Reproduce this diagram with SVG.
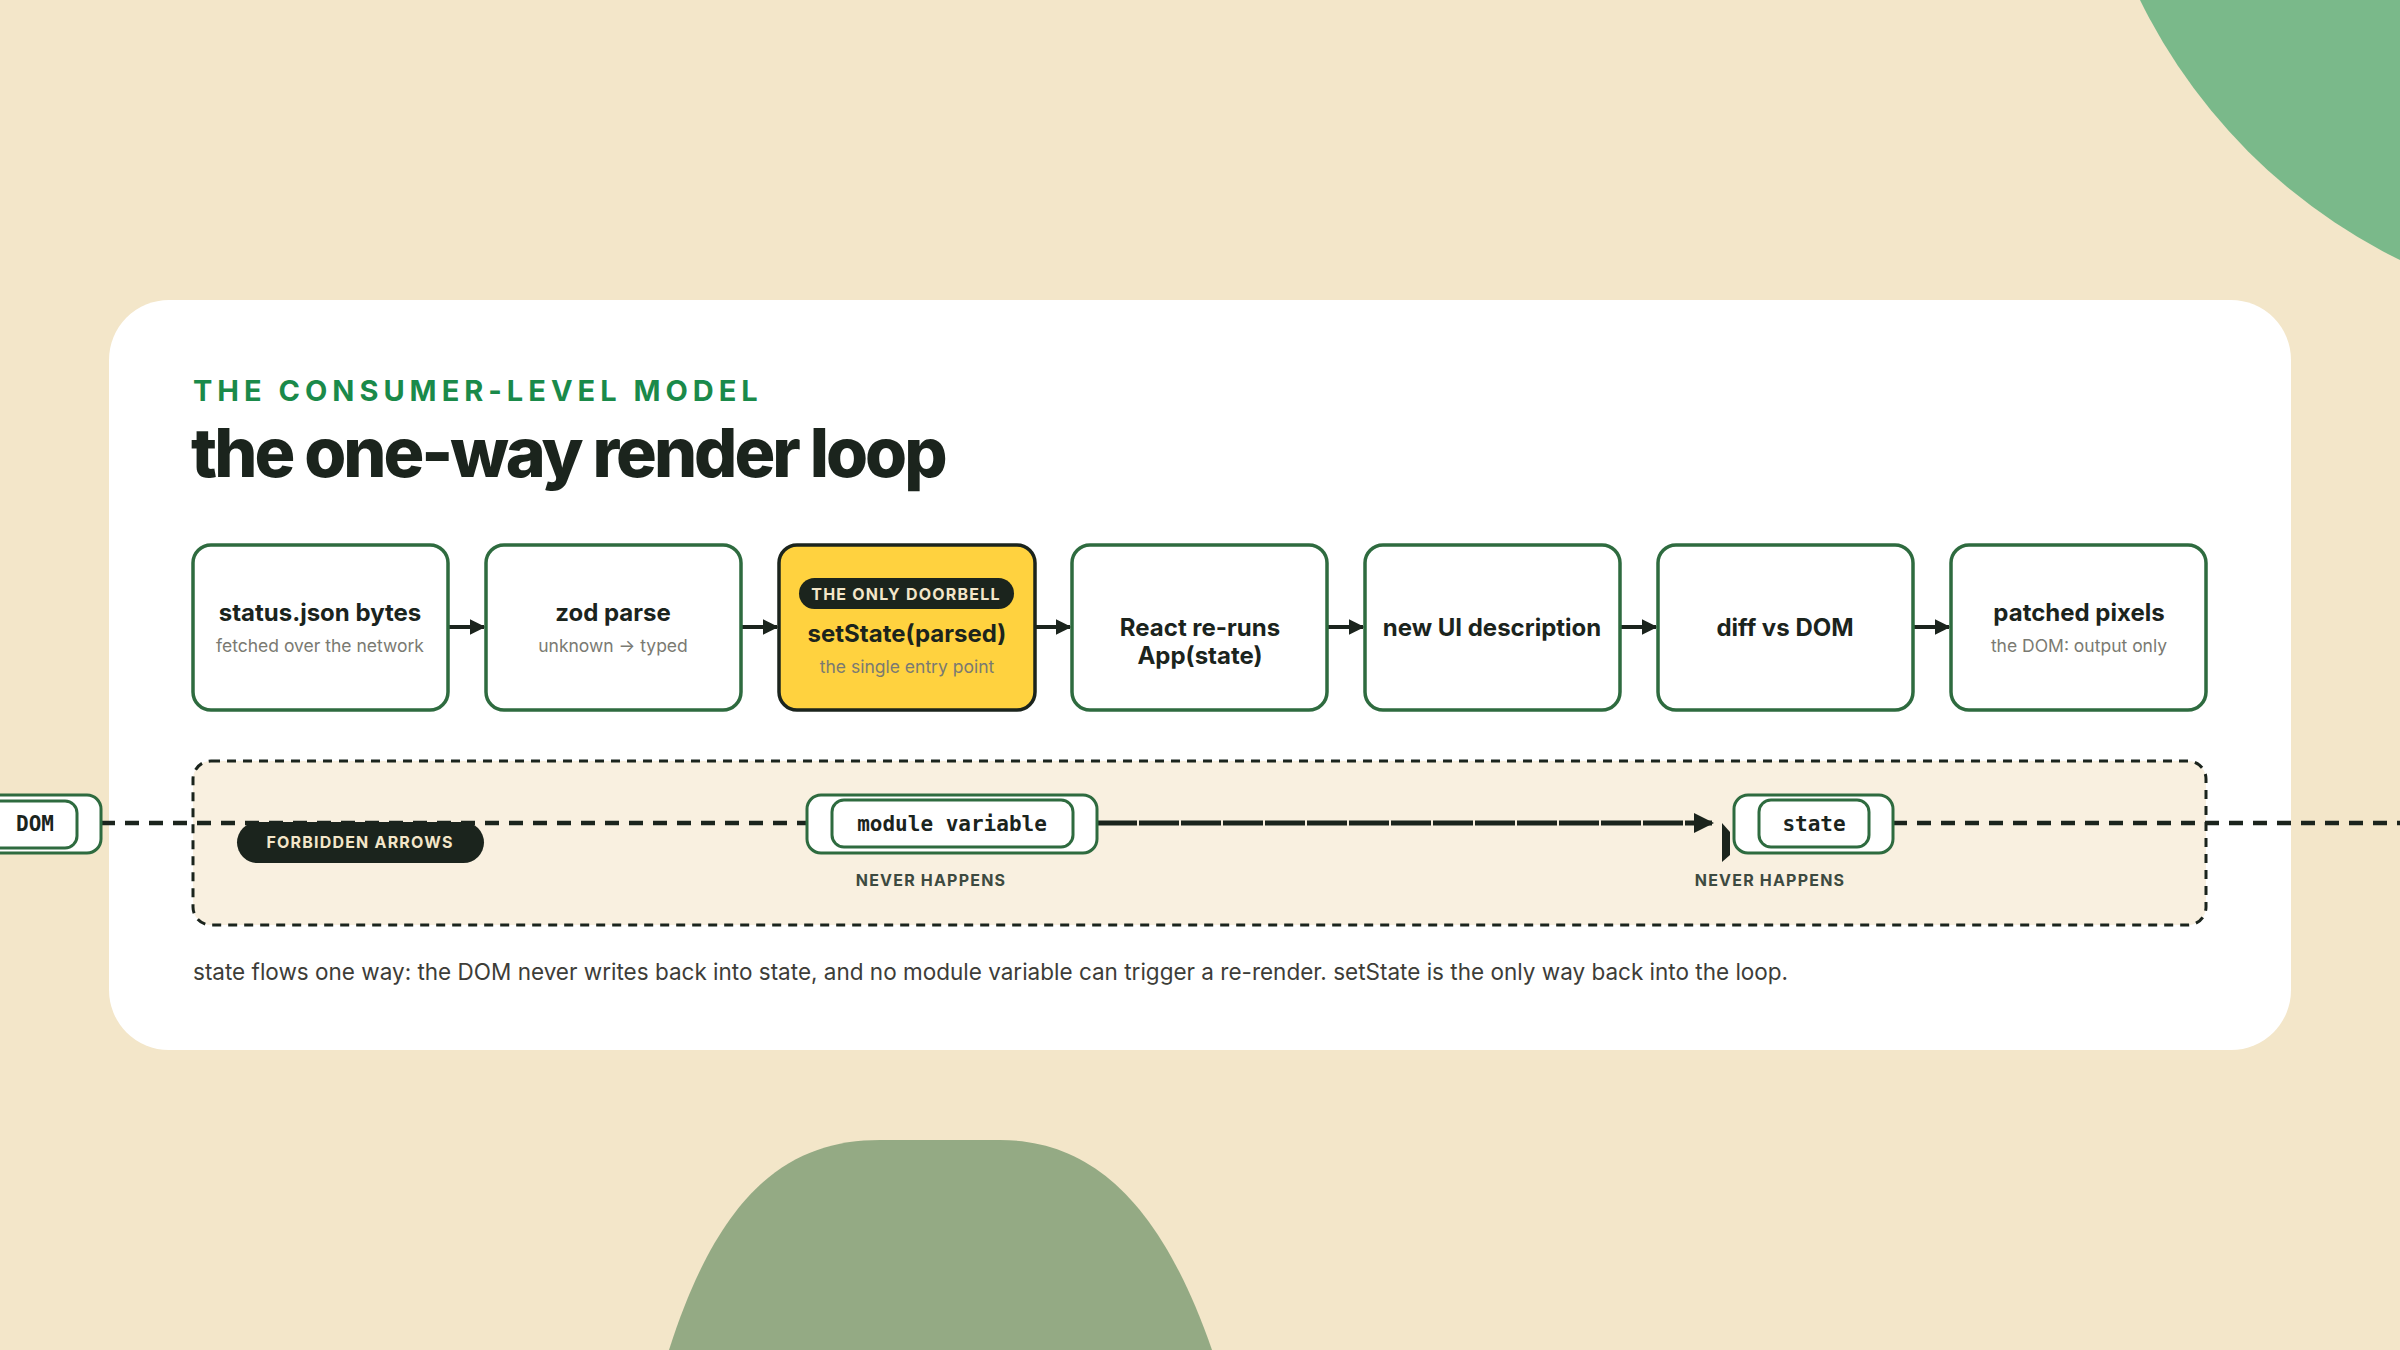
<svg xmlns="http://www.w3.org/2000/svg" width="2400" height="1350" viewBox="0 0 2400 1350">
<defs>
<style>
.node rect.b{fill:#fff;stroke:#2e6b3f;stroke-width:3.5}
.t{font-family:Inter,"Liberation Sans",sans-serif;font-weight:700;font-size:24px;fill:#1b241d;text-anchor:middle}
.s{font-family:Inter,"Liberation Sans",sans-serif;font-size:17.5px;fill:#7a7a72;text-anchor:middle}
.mono{font-family:"DejaVu Sans Mono","Liberation Mono",monospace;font-size:21px;fill:#1b241d;text-anchor:middle;font-weight:700}
.cap{font-family:Inter,"Liberation Sans",sans-serif;font-weight:700;font-size:16px;letter-spacing:1.2px;text-anchor:middle}
.ar{stroke:#1b241d;stroke-width:4;fill:none;marker-end:url(#ah)}
.notch{fill:#1b241d}
</style>
<marker id="ah" viewBox="0 0 10 10" refX="9" refY="5" markerWidth="4" markerHeight="4" orient="auto" markerUnits="strokeWidth"><path d="M0,0L10,5L0,10Z" fill="#1b241d"/></marker>
</defs>
<rect width="2400" height="1350" fill="#f3e6c9"/>
<circle cx="2650" cy="-250" r="568" fill="#7ab98a"/>
<path d="M669,1350 C720,1190 790,1140 880,1140 L1000,1140 C1090,1140 1160,1200 1212,1350 Z" fill="#94aa84"/>
<rect x="109" y="300" width="2182" height="750" rx="60" fill="#fff"/>
<text x="193" y="401" font-family="Inter,'Liberation Sans',sans-serif" font-weight="700" font-size="29" letter-spacing="5" fill="#1a8a4a">THE CONSUMER-LEVEL MODEL</text>
<text x="191" y="477" font-family="Inter,'Liberation Sans',sans-serif" font-weight="800" font-size="68" letter-spacing="-3" fill="#1b241d">the one-way render loop</text>

<rect x="193" y="761" width="2013" height="164" rx="18" fill="#f9f0e0" stroke="#1b241d" stroke-width="3" stroke-dasharray="9 7"/>

<g id="connectors">
<line class="ar" x1="448" y1="627" x2="484" y2="627"/>
<line class="ar" x1="741" y1="627" x2="777" y2="627"/>
<line class="ar" x1="1035" y1="627" x2="1070" y2="627"/>
<line class="ar" x1="1327" y1="627" x2="1363" y2="627"/>
<line class="ar" x1="1620" y1="627" x2="1656" y2="627"/>
<line class="ar" x1="1913" y1="627" x2="1949" y2="627"/>
<line x1="101" y1="823" x2="807" y2="823" stroke="#1b241d" stroke-width="4.5" stroke-dasharray="14 10"/>
<line x1="1097" y1="823" x2="1712" y2="823" stroke="#1b241d" stroke-width="5" stroke-dasharray="40 2" marker-end="url(#ah)"/>
<line x1="1893" y1="823" x2="2400" y2="823" stroke="#1b241d" stroke-width="4.5" stroke-dasharray="14 10"/>
<path class="notch" d="M486,627 L496,637 L496,662 L486,668Z"/>
<path class="notch" d="M779,627 L789,637 L789,662 L779,668Z"/>
<path class="notch" d="M1072,627 L1082,637 L1082,662 L1072,668Z"/>
<path class="notch" d="M1365,627 L1375,637 L1375,662 L1365,668Z"/>
<path class="notch" d="M1658,627 L1668,637 L1668,662 L1658,668Z"/>
<path class="notch" d="M1951,627 L1961,637 L1961,662 L1951,668Z"/>
<path class="notch" d="M1722,823 L1730,832 L1730,855 L1722,862Z"/>
</g>

<g id="n1" class="node"><rect class="b" x="193" y="545" width="255" height="165" rx="18"/>
<text class="t" x="320" y="621">status.json bytes</text><text class="s" x="320" y="652">fetched over the network</text></g>
<g id="n2" class="node"><rect class="b" x="486" y="545" width="255" height="165" rx="18"/>
<text class="t" x="613" y="621">zod parse</text><text class="s" x="613" y="652">unknown → typed</text></g>
<g id="n3" class="node"><rect x="779" y="545" width="256" height="165" rx="18" fill="#ffd23f" stroke="#1b241d" stroke-width="3.5"/>
<rect x="799" y="578" width="215" height="31" rx="15.5" fill="#1b241d"/>
<text class="cap" x="906" y="600" font-size="15" fill="#f3e6c9">THE ONLY DOORBELL</text>
<text class="t" x="907" y="642">setState(parsed)</text><text class="s" x="907" y="673" fill="#1b241d">the single entry point</text></g>
<g id="n4" class="node"><rect class="b" x="1072" y="545" width="255" height="165" rx="18"/>
<text class="t" x="1200" y="636">React re-runs</text><text class="t" x="1200" y="664">App(state)</text></g>
<g id="n5" class="node"><rect class="b" x="1365" y="545" width="255" height="165" rx="18"/>
<text class="t" x="1492" y="636">new UI description</text></g>
<g id="n6" class="node"><rect class="b" x="1658" y="545" width="255" height="165" rx="18"/>
<text class="t" x="1785" y="636">diff vs DOM</text></g>
<g id="n7" class="node"><rect class="b" x="1951" y="545" width="255" height="165" rx="18"/>
<text class="t" x="2079" y="621">patched pixels</text><text class="s" x="2079" y="652">the DOM: output only</text></g>

<g id="dom"><rect x="-30" y="795" width="131" height="58" rx="14" fill="#fff" stroke="#2e6b3f" stroke-width="3"/>
<rect x="-20" y="801" width="97" height="47" rx="12" fill="#fff" stroke="#2e6b3f" stroke-width="3"/>
<text class="mono" x="35" y="831">DOM</text></g>
<g id="forbidden"><rect x="237" y="822" width="247" height="41" rx="20.5" fill="#1b241d"/>
<text class="cap" x="360" y="848" fill="#f3e6c9">FORBIDDEN ARROWS</text></g>
<g id="modvar"><rect x="807" y="795" width="290" height="58" rx="14" fill="#fff" stroke="#2e6b3f" stroke-width="3"/>
<rect x="832" y="800" width="241" height="47" rx="12" fill="#fff" stroke="#2e6b3f" stroke-width="3"/>
<text class="mono" x="952" y="831">module variable</text>
<text class="cap" x="931" y="886" fill="#3d4a40">NEVER HAPPENS</text></g>
<g id="state"><rect x="1734" y="795" width="159" height="58" rx="14" fill="#fff" stroke="#2e6b3f" stroke-width="3"/>
<rect x="1759" y="800" width="110" height="47" rx="12" fill="#fff" stroke="#2e6b3f" stroke-width="3"/>
<text class="mono" x="1814" y="831">state</text>
<text class="cap" x="1770" y="886" fill="#3d4a40">NEVER HAPPENS</text></g>

<text x="193" y="980" font-family="Inter,'Liberation Sans',sans-serif" font-size="22.5" fill="#3d3d38">state flows one way: the DOM never writes back into state, and no module variable can trigger a re-render. setState is the only way back into the loop.</text>
</svg>
